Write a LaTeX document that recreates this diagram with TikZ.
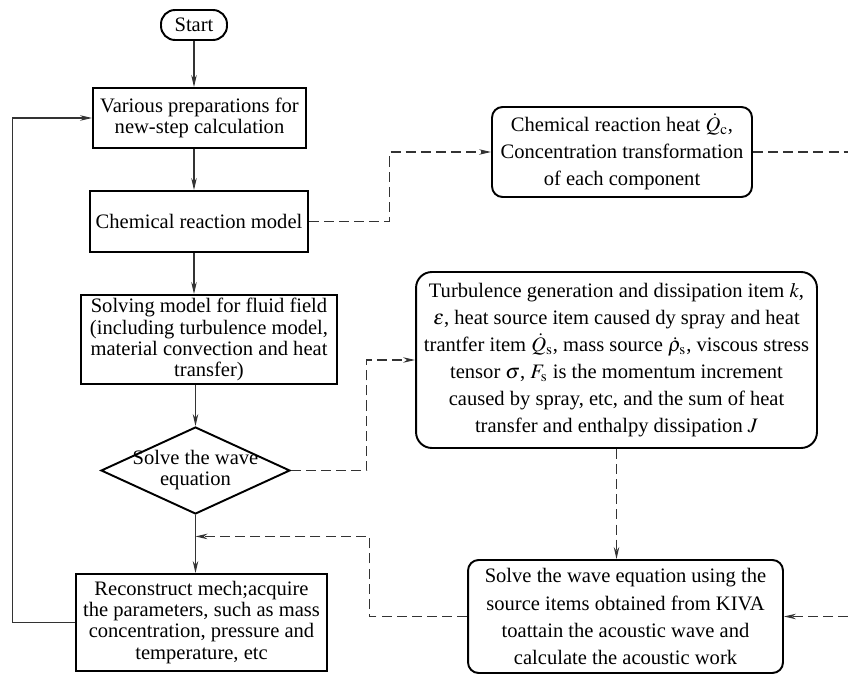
\documentclass[tikz,border=0pt]{standalone}
\usepackage{mathptmx}
\usepackage{fontspec}
\setmainfont{Liberation Serif}
\usetikzlibrary{arrows.meta,calc,shapes.geometric}
\tikzset{
    flow chart/.style = {x=0.02cm, y=-0.02cm,
                         >={Stealth[length=2.4mm, width=1.1mm]}},
    line/.style       = {line width=0.6pt, draw=black!80},
    link/.style       = {line, dash pattern=on 5.7pt off 2.9pt},
    block/.style      = {draw, line width=1.1pt, align=center, inner sep=0pt,
                         font=\fontsize{11.7}{12}\selectfont},
    rblock/.style     = {block, rounded corners=6pt,
                         font=\fontsize{11.7}{15.4}\selectfont},
    terminal/.style   = {block, rounded corners=8pt},
    decision/.style   = {block, diamond, aspect=2.17, inner sep=-4.5pt}
}

\begin{document}
\begin{tikzpicture}[flow chart]
\useasboundingbox (0,0) rectangle (848,675);
\clip (0,0) rectangle (848,675);

% Main calculation loop.
\node[terminal, minimum width=1.32cm, minimum height=0.6cm] (start) at (194,25) {Start};
\node[block, minimum width=4.26cm, minimum height=1.2cm] (prep) at (199.5,118)
    {Various preparations for\\new-step calculation};
\node[block, minimum width=4.36cm, minimum height=1.22cm] (chem) at (199,221.5)
    {Chemical reaction model};
\node[block, minimum width=5.12cm, minimum height=1.78cm] (fluid) at (209,339.5)
    {Solving model for fluid field\\(including turbulence model,\\material convection and heat\\transfer)};
\node[decision, minimum width=3.78cm, minimum height=1.74cm] (wave) at (195.5,470.5)
    {Solve the wave\\equation};
\node[block, minimum width=5.02cm, minimum height=1.94cm] (recon) at (201.5,622.5)
    {Reconstruct mech;acquire\\the parameters, such as mass\\concentration, pressure and\\temperature, etc};
\draw[->,line] (start.south) -- (start.south |- prep.north);
\draw[->,line] (prep.south -| start) -- (chem.north -| start);
\draw[->,line] (chem.south -| start) -- (fluid.north -| start);
\draw[->,line] (fluid.south -| wave) -- (wave.north);
\draw[->,line] (wave.south) -- (wave.south |- recon.north);
\draw[->,line] (recon.west) -- ++(-63,0) |- (prep.west);

% Source terms passed on to the acoustic solver.
\node[rblock, minimum width=5.2cm, minimum height=1.8cm] (heat) at (622,152)
    {Chemical reaction heat $\dot{Q}_{\mathrm{c}}$,\\Concentration transformation\\of each component};
\node[rblock, rounded corners=9pt, minimum width=8.02cm, minimum height=3.52cm] (turb) at (616.5,360)
    {Turbulence generation and dissipation item $k$,\\
     $\varepsilon$, heat source item caused dy spray and heat\\
     trantfer item $\dot{Q}_{\mathrm{s}}$, mass source $\dot{\rho}_{\mathrm{s}}$, viscous stress\\
     tensor $\sigma$, $F_{\mathrm{s}}$ is the momentum increment\\
     caused by spray, etc, and the sum of heat\\
     transfer and enthalpy dissipation $J$};
\node[rblock, minimum width=6.3cm, minimum height=2.26cm] (acou) at (625.5,616.5)
    {Solve the wave equation using the\\source items obtained from KIVA\\toattain the acoustic wave and\\calculate the acoustic work};
\coordinate (join) at ($(wave.south)!0.37!(wave.south |- recon.north)$);
\draw[->,link] (chem.east) -- ++(81,0) |- (heat.west);
\draw[->,link] (heat.east) -- ++(110,0) |- (acou.east);
\draw[->,link] (wave.east) -- ++(76,0) |- (turb.west);
\draw[->,link] (turb.south) -- (turb.south |- acou.north);
\draw[->,link] (acou.west) -- ++(-98,0) |- (join);

\end{tikzpicture}
\end{document}
